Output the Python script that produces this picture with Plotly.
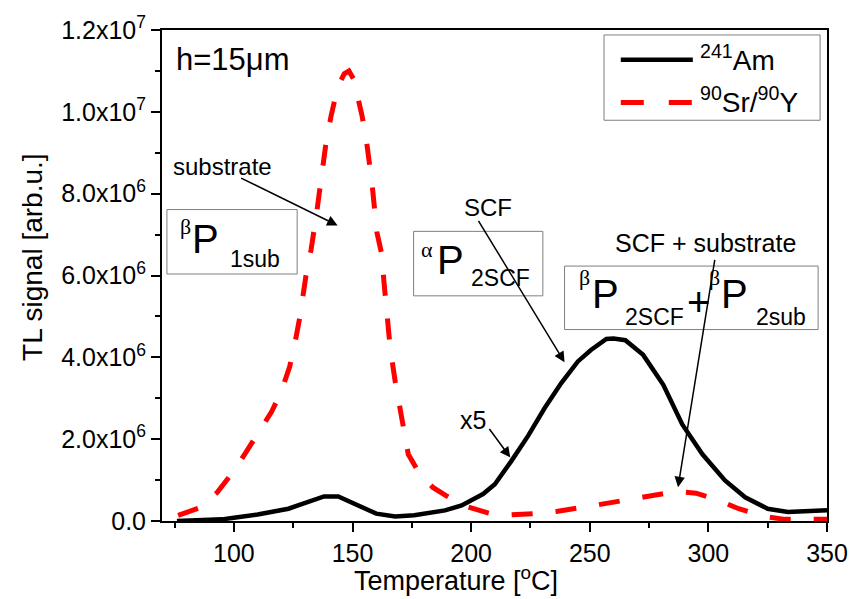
import plotly.graph_objects as go

# ---------------- data ----------------
am_T = [76, 85, 95, 100, 110, 123, 130, 138, 144, 152, 160, 168, 176, 189, 196, 205, 210,
        217, 224, 231, 238, 245, 250.5, 257, 260, 265, 272.5, 281, 289, 297.5, 307, 315.5,
        325, 333.5, 342, 350]
am_V = [0.0, 0.01, 0.04, 0.08, 0.16, 0.30, 0.43, 0.60, 0.60, 0.38, 0.18, 0.11, 0.14, 0.26,
        0.38, 0.66, 0.90, 1.47, 2.08, 2.76, 3.37, 3.90, 4.18, 4.45, 4.46, 4.42, 4.06, 3.33,
        2.36, 1.63, 0.99, 0.58, 0.30, 0.22, 0.23, 0.26]

sr_T = [76.5, 85.5, 93, 99, 105, 110.5, 116, 120, 123.5, 125.7, 127.7, 130.4, 132.5, 134.7,
        136.7, 138.8, 140.9, 143.7, 146.5, 148.5, 150.5, 152, 154.1, 156.2, 158.2, 160.3,
        162.4, 163.2, 164.5, 165.9, 168, 171, 173.5, 178.3, 183.9, 189.4, 196.4, 207.5,
        216.5, 226.9, 236.6, 247.7, 256, 266.4, 275.4, 286.5, 294.8, 304.5, 312.8, 323.9,
        332.2, 343.3, 350]
sr_V = [0.14, 0.32, 0.70, 1.15, 1.67, 2.16, 2.68, 3.17, 3.77, 4.34, 4.95, 6.0, 6.62, 7.45,
        8.42, 9.23, 9.88, 10.6, 10.93, 11.0, 10.8, 10.44, 9.88, 9.15, 8.26, 7.05,
        6.5, 5.88, 5.0, 4.22, 3.41, 2.44, 1.63, 1.15, 0.82, 0.62, 0.38, 0.19,
        0.15, 0.18, 0.24, 0.34, 0.42, 0.52, 0.62, 0.72, 0.68, 0.5, 0.30, 0.11,
        0.04, 0.03, 0.04]

scale = 1e6
y_tickvals = [0, 2e6, 4e6, 6e6, 8e6, 1e7, 1.2e7]
y_ticktext = ["0.0", "2.0x10<sup>6</sup>", "4.0x10<sup>6</sup>", "6.0x10<sup>6</sup>",
              "8.0x10<sup>6</sup>", "1.0x10<sup>7</sup>", "1.2x10<sup>7</sup>"]
y_minor = [1e6, 3e6, 5e6, 7e6, 9e6, 1.1e7]

# ---------------- layout helpers (pixel -> paper) ----------------
W, H = 860, 599
L, R, T, B = 162, 836, 26, 521


def px(x):
    return (x - L) / (R - L)


def py(y):
    return (B - y) / (B - T)


FONT = "Liberation Sans, Arial, sans-serif"
SERIF = "Liberation Serif, Times New Roman, serif"

fig = go.Figure()
fig.add_trace(go.Scatter(x=am_T, y=[v * scale for v in am_V], mode="lines",
                         name="241Am", line=dict(color="black", width=4.5)))
fig.add_trace(go.Scatter(x=sr_T, y=[v * scale for v in sr_V], mode="lines",
                         name="90Sr/90Y",
                         line=dict(color="#ff0000", width=5, dash="21px,23px")))

shapes = []
annotations = []


def rect(x0, y0, x1, y1):
    shapes.append(dict(type="rect", xref="paper", yref="paper",
                       x0=px(x0), x1=px(x1), y0=py(y0), y1=py(y1),
                       line=dict(color="#7f7f7f", width=1)))


def text(x, y, s, size, family=FONT, xanchor="center", yanchor="middle"):
    annotations.append(dict(x=px(x), y=py(y), xref="paper", yref="paper", text=s,
                            showarrow=False, xanchor=xanchor, yanchor=yanchor,
                            borderpad=0,
                            font=dict(size=size, family=family, color="black")))


def arrow(tx, ty, hx, hy):
    annotations.append(dict(x=px(hx), y=py(hy), xref="paper", yref="paper", text="",
                            showarrow=True, ax=tx - hx, ay=ty - hy, arrowhead=2,
                            arrowsize=1.4, arrowwidth=1.5, arrowcolor="black", standoff=0))


# legend (manual)
rect(610, 31, 829, 117)
shapes.append(dict(type="line", xref="paper", yref="paper", x0=px(627), x1=px(700),
                   y0=py(56), y1=py(56), line=dict(color="black", width=4.5)))
shapes.append(dict(type="line", xref="paper", yref="paper", x0=px(627), x1=px(700),
                   y0=py(99), y1=py(99), line=dict(color="#ff0000", width=5, dash="23px,25px")))
text(706, 54, "<sup>241</sup>Am", 28, xanchor="left")
text(706, 97, "<sup>90</sup>Sr/<sup>90</sup>Y", 28, xanchor="left")

# title label
text(234, 56, "h=15μm", 31)

# boxes
rect(167, 207, 299, 272)
text(186, 224, "β", 22, SERIF)
text(206, 237, "P", 40)
text(256, 257, "1sub", 23)

rect(417, 229, 548, 294)
text(431, 247, "α", 22, SERIF)
text(454, 258, "P", 40)
text(505, 276, "2SCF", 23)

rect(570, 264, 827, 328)
text(590, 276, "β", 22, SERIF)
text(612, 292, "P", 40)
text(661, 315, "2SCF", 23)
text(706, 300, "+", 40)
text(722, 276, "β", 22, SERIF)
text(742, 292, "P", 40)
text(789, 315, "2sub", 23)

# labels and arrows
text(223, 164, "substrate", 24)
arrow(242, 175, 340, 223)
text(492, 205, "SCF", 24)
arrow(483, 218, 570, 361)
text(713, 241, "SCF + substrate", 25)
arrow(722, 258, 685, 487)
text(477, 419, "x5", 25)
arrow(493, 427, 515, 457)

# axis titles
text(460, 598, "Temperature [<sup>o</sup>C]", 27, yanchor="bottom")
annotations.append(dict(x=px(30), y=py(255), xref="paper", yref="paper",
                        text="TL signal [arb.u.]", showarrow=False, textangle=-90,
                        xanchor="center", yanchor="middle", borderpad=0,
                        font=dict(size=28, family=FONT, color="black")))

fig.update_layout(
    width=W, height=H,
    margin=dict(l=L, r=W - R, t=T, b=H - B),
    paper_bgcolor="white", plot_bgcolor="white",
    showlegend=False,
    shapes=shapes, annotations=annotations,
    font=dict(family=FONT, color="black"),
    xaxis=dict(range=[69.7, 350], tickmode="linear", tick0=0, dtick=50,
               ticks="outside", ticklen=9, tickwidth=1.5, tickcolor="black",
               showline=True, linewidth=2, linecolor="black", mirror=True,
               showgrid=False, zeroline=False, ticklabelstandoff=0,
               tickfont=dict(size=25, family=FONT, color="black"),
               minor=dict(tickmode="linear", tick0=0, dtick=25, ticks="outside",
                          ticklen=5, tickwidth=1.5, tickcolor="black", showgrid=False)),
    yaxis=dict(range=[0, 1.2e7], tickmode="array", tickvals=y_tickvals, ticktext=y_ticktext,
               ticks="outside", ticklen=9, tickwidth=1.5, tickcolor="black",
               showline=True, linewidth=2, linecolor="black", mirror=True,
               showgrid=False, zeroline=False,
               tickfont=dict(size=25, family=FONT, color="black"),
               minor=dict(tickmode="array", tickvals=y_minor, ticks="outside",
                          ticklen=5, tickwidth=1.5, tickcolor="black", showgrid=False)),
)

fig.write_html("out.html")
